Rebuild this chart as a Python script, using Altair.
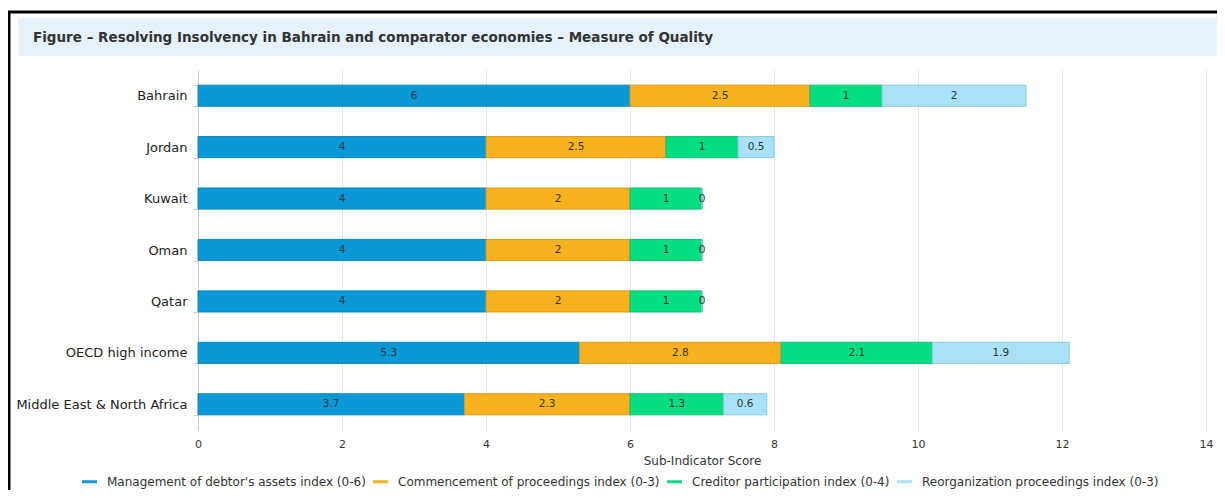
import altair as alt
import pandas as pd

countries = ["Bahrain", "Jordan", "Kuwait", "Oman", "Qatar",
             "OECD high income", "Middle East & North Africa"]
series = ["Management of debtor's assets index (0-6)",
          "Commencement of proceedings index (0-3)",
          "Creditor participation index (0-4)",
          "Reorganization proceedings index (0-3)"]
management = [6, 4, 4, 4, 4, 5.3, 3.7]
commencement = [2.5, 2.5, 2, 2, 2, 2.8, 2.3]
creditor = [1, 1, 1, 1, 1, 2.1, 1.3]
reorganization = [2, 0.5, 0, 0, 0, 1.9, 0.6]
x_ticks = [0, 2, 4, 6, 8, 10, 12, 14]
fill_colors = ["#0A99D6", "#F8B21D", "#04DE83", "#A8E1F8"]
stroke_colors = ["#0B86BC", "#D99B1A", "#07C274", "#8CC8DF"]
title_text = "Figure \u2013 Resolving Insolvency in Bahrain and comparator economies \u2013 Measure of Quality"

rows = []
for vals, s_idx in zip([management, commencement, creditor, reorganization], range(4)):
    for c, v in zip(countries, vals):
        rows.append({"country": c, "series": series[s_idx], "order": s_idx, "value": v})
df = pd.DataFrame(rows)

W, H = 1008, 360

base = alt.Chart(df).transform_stack(
    stack="value", groupby=["country"], as_=["x0", "x1"],
    sort=[alt.SortField("order", order="ascending")]
).transform_calculate(mid="(datum.x0 + datum.x1) / 2")

y_enc = alt.Y("country:N", sort=countries,
              scale=alt.Scale(paddingInner=0.59, paddingOuter=0.295),
              axis=alt.Axis(title=None, labelFontSize=13, labelColor="#222",
                            labelPadding=6, tickBand="extent", tickSize=5,
                            tickColor="#cccccc", domainColor="#cccccc",
                            grid=False, labelLimit=300))

x_scale = alt.Scale(domain=[0, 14], nice=False, zero=True)

bars = base.mark_bar(strokeWidth=1).encode(
    x=alt.X("x0:Q", scale=x_scale,
            axis=alt.Axis(values=x_ticks, format="d", grid=True, gridColor="#e6e6e6",
                          domain=False, ticks=False, labelFontSize=11,
                          labelColor="#333", labelPadding=8, labelFlush=False,
                          title="Sub-Indicator Score", titleFontSize=12,
                          titleFontWeight="normal", titleColor="#333",
                          titlePadding=6)),
    x2="x1:Q",
    y=y_enc,
    color=alt.Color("series:N", scale=alt.Scale(domain=series, range=fill_colors),
                    legend=alt.Legend(title=None, orient="none", legendX=-116,
                                      legendY=404, direction="horizontal",
                                      symbolType="M-1,-0.2H1V0.2H-1Z",
                                      symbolStrokeWidth=0, symbolOpacity=1,
                                      symbolSize=225, labelFontSize=12,
                                      labelColor="#333", labelOffset=10,
                                      columnPadding=7, labelLimit=400)),
    stroke=alt.Stroke("series:N", scale=alt.Scale(domain=series, range=stroke_colors),
                      legend=None),
)

labels = base.mark_text(fontSize=10.5, color="#333").encode(
    x=alt.X("mid:Q", scale=x_scale, title="Sub-Indicator Score"),
    y=alt.Y("country:N", sort=countries),
    text=alt.Text("value:Q"),
)

one = pd.DataFrame({"k": [0]})
frame = alt.Chart(one).mark_rect(fillOpacity=0, stroke="black", strokeWidth=3).encode(
    x=alt.value(-189), x2=alt.value(W + 40), y=alt.value(-58), y2=alt.value(H + 80))
band = alt.Chart(one).mark_rect(fill="#E5F1FB").encode(
    x=alt.value(-180), x2=alt.value(W + 20), y=alt.value(-52), y2=alt.value(-14))
title = alt.Chart(one).mark_text(align="left", baseline="middle", fontSize=13.5,
                                 fontWeight="bold", color="#333").encode(
    x=alt.value(-165), y=alt.value(-32), text=alt.value(title_text))

chart = alt.layer(frame, band, title, bars, labels).properties(
    width=W, height=H,
    autosize=alt.AutoSizeParams(type="none"),
    padding={"left": 190, "top": 62, "right": 11, "bottom": 60},
).configure(font="DejaVu Sans").configure_view(strokeWidth=0)

chart.save("out.html", embed_options={"renderer": "svg", "actions": False})
